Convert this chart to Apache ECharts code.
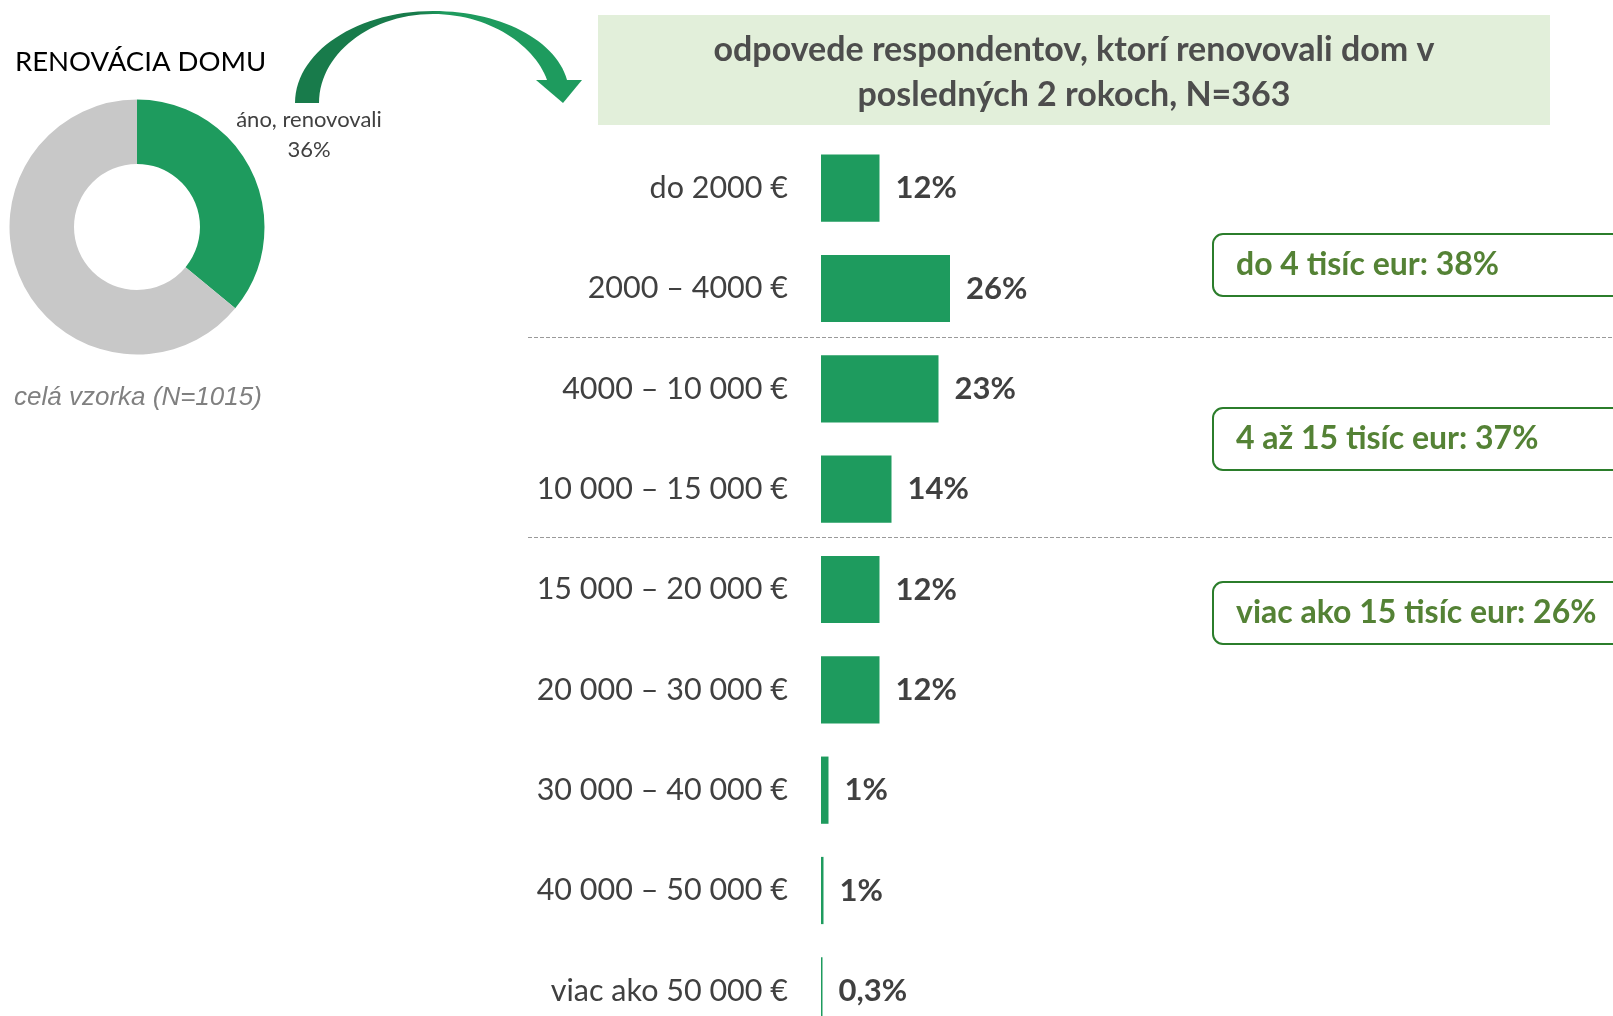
<!DOCTYPE html>
<html>
<head>
<meta charset="utf-8">
<style>
  html, body { margin: 0; padding: 0; background: #fff; }
  #main { width: 1613px; height: 1016px; }
</style>
</head>
<body>
<div id="main"></div>
<script src="https://cdn.jsdelivr.net/npm/echarts@6/dist/echarts.min.js"></script>
<script>
// data
var categories = ['do 2000 €', '2000 – 4000 €', '4000 – 10 000 €', '10 000 – 15 000 €',
  '15 000 – 20 000 €', '20 000 – 30 000 €', '30 000 – 40 000 €', '40 000 – 50 000 €', 'viac ako 50 000 €'];
var values = [11.7, 25.8, 23.5, 14.1, 11.7, 11.7, 1.5, 0.5, 0.3];
var valueLabels = ['12%', '26%', '23%', '14%', '12%', '12%', '1%', '1%', '0,3%'];

var donutNames = ['áno, renovovali', 'nie'];
var donutValues = [36, 64];

var groupLabels = ['do 4 tisíc eur: 38%', '4 až 15 tisíc eur: 37%', 'viac ako 15 tisíc eur: 26%'];

var GREEN = '#1e9b5e';
var FONT = 'Lato, "Noto Sans", sans-serif';

var myChart = echarts.init(document.getElementById('main'));

// sample a cubic bezier into points (for the decorative arrow)
function bez(p0, p1, p2, p3, n) {
  var pts = [];
  for (var i = 0; i <= n; i++) {
    var t = i / n, u = 1 - t;
    pts.push([
      u * u * u * p0[0] + 3 * u * u * t * p1[0] + 3 * u * t * t * p2[0] + t * t * t * p3[0],
      u * u * u * p0[1] + 3 * u * u * t * p1[1] + 3 * u * t * t * p2[1] + t * t * t * p3[1]
    ]);
  }
  return pts;
}
var arrowPts = []
  .concat(bez([295, 103], [295, 52], [357, 11], [433, 11], 30))
  .concat(bez([433, 11], [500, 11], [556, 40], [567, 80], 30))
  .concat(bez([547, 80], [535, 46], [490, 14], [433, 14], 30))
  .concat(bez([433, 14], [370, 14], [319, 54], [319, 103], 30));

// right-side group boxes
var boxTops = [234, 408, 582];
var boxes = [];
groupLabels.forEach(function (t, i) {
  boxes.push({
    type: 'rect',
    shape: { x: 1213, y: boxTops[i], width: 440, height: 62, r: 10 },
    style: { fill: '#fff', stroke: '#2b7d2b', lineWidth: 2 }
  });
  boxes.push({
    type: 'text',
    x: 1236, y: boxTops[i] + 31,
    style: { text: t, fill: '#548235', font: 'bold 32px ' + FONT, verticalAlign: 'middle' }
  });
});

var option = {
  animation: false,
  backgroundColor: '#fff',
  grid: {
    left: 821, top: 138, width: 500, height: 903,
    outerBoundsMode: 'none'
  },
  xAxis: {
    type: 'value', min: 0, max: 100, show: false
  },
  yAxis: {
    type: 'category',
    inverse: true,
    data: categories,
    axisLine: { show: false },
    axisTick: { show: false },
    axisLabel: { margin: 33, color: '#404040', fontSize: 30.5, fontFamily: FONT }
  },
  series: [
    {
      type: 'bar',
      data: values,
      barCategoryGap: '33%',
      itemStyle: { color: GREEN },
      label: {
        show: true,
        position: 'right',
        distance: 16,
        color: '#404040',
        fontWeight: 'bold',
        fontSize: 31,
        fontFamily: FONT,
        formatter: function (p) { return valueLabels[p.dataIndex]; }
      }
    },
    {
      type: 'pie',
      center: [137, 227],
      radius: [63, 127.5],
      startAngle: 90,
      silent: true,
      data: [
        { name: donutNames[0], value: donutValues[0], itemStyle: { color: GREEN } },
        { name: donutNames[1], value: donutValues[1], itemStyle: { color: '#c8c8c8' }, label: { show: false } }
      ],
      label: {
        show: true,
        formatter: '{b}\n{d}%',
        color: '#404040',
        fontSize: 22,
        lineHeight: 30,
        fontFamily: FONT,
        align: 'center'
      },
      labelLine: { show: false },
      labelLayout: { x: 309, y: 135, align: 'center', verticalAlign: 'middle' }
    }
  ],
  graphic: [
    {
      type: 'text', x: 15, y: 62,
      style: { text: 'RENOVÁCIA DOMU', fill: '#000', font: '27.5px ' + FONT, verticalAlign: 'middle' }
    },
    {
      type: 'text', x: 14, y: 398,
      style: { text: 'celá vzorka (N=1015)', fill: '#808080', font: 'italic 26px "Liberation Sans", Arial, sans-serif', verticalAlign: 'middle' }
    },
    // curved arrow
    {
      type: 'polygon',
      shape: { points: arrowPts },
      style: {
        fill: new echarts.graphic.LinearGradient(0, 0, 1, 0, [
          { offset: 0, color: '#187b4b' },
          { offset: 0.45, color: '#187b4b' },
          { offset: 0.55, color: GREEN },
          { offset: 1, color: GREEN }
        ])
      }
    },
    {
      type: 'polygon',
      shape: { points: [[536, 80], [582, 80], [563, 103]] },
      style: { fill: GREEN }
    },
    // header box
    {
      type: 'rect',
      shape: { x: 598, y: 15, width: 952, height: 110 },
      style: { fill: '#e2efda' }
    },
    {
      type: 'text', x: 1074, y: 50,
      style: { text: 'odpovede respondentov, ktorí renovovali dom v', fill: '#4d4d4d', font: 'bold 34px ' + FONT, textAlign: 'center', verticalAlign: 'middle' }
    },
    {
      type: 'text', x: 1074, y: 95,
      style: { text: 'posledných 2 rokoch, N=363', fill: '#4d4d4d', font: 'bold 34px ' + FONT, textAlign: 'center', verticalAlign: 'middle' }
    },
    // dashed separators
    {
      type: 'line',
      shape: { x1: 528, y1: 337.5, x2: 1613, y2: 337.5 },
      style: { stroke: '#9a9a9a', lineWidth: 1, lineDash: [4, 2] }
    },
    {
      type: 'line',
      shape: { x1: 528, y1: 537.5, x2: 1613, y2: 537.5 },
      style: { stroke: '#9a9a9a', lineWidth: 1, lineDash: [4, 2] }
    }
  ].concat(boxes)
};

myChart.setOption(option);
</script>
</body>
</html>
